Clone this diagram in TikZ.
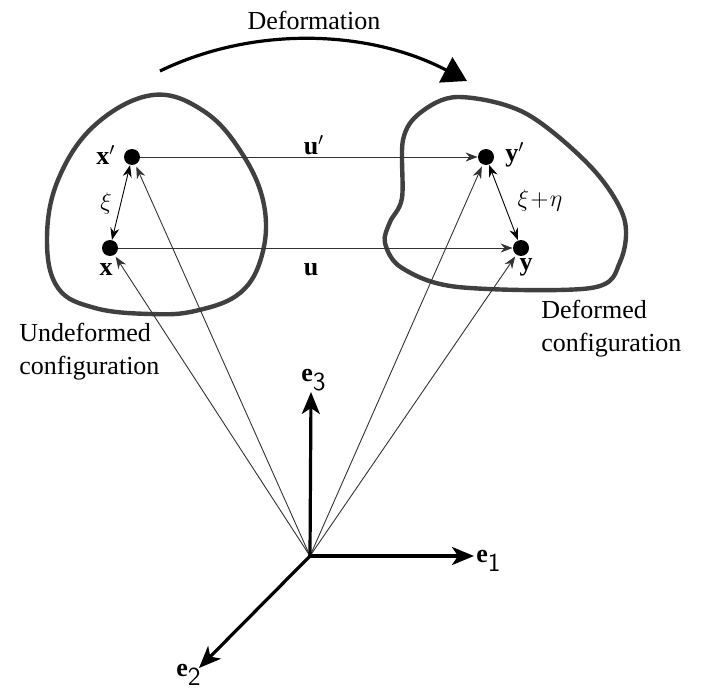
\documentclass[tikz,border=0pt]{standalone}
\usepackage{fontspec}
\setmainfont{Liberation Serif}
\usetikzlibrary{arrows.meta}
\tikzset{
  blob/.style={line width=2.2pt, draw=black!75, line join=round},
  dot/.style={circle, fill=black, inner sep=0pt, minimum size=8pt},
  thinarr/.style={line width=0.45pt, draw=black!80, -{Stealth[length=6pt,width=4.5pt]}},
  dblarr/.style={line width=0.45pt, {Stealth[length=6pt,width=4.5pt]}-{Stealth[length=6pt,width=4.5pt]}},
  axis/.style={line width=1.6pt, -{Stealth[length=11pt,width=9pt,inset=3pt]}},
  lbl/.style={font=\rmfamily\fontsize{13}{15}\selectfont, inner sep=1pt},
  txt/.style={font=\rmfamily\fontsize{13}{16.5}\selectfont, align=left, inner sep=0pt}
}
\begin{document}
\begin{tikzpicture}[x=0.5pt,y=-0.5pt]
\useasboundingbox (0,0) rectangle (718,690);
% blobs
\draw[blob] plot[smooth cycle, tension=0.65] coordinates {(153,95) (205,112) (243,155) (264,205) (262,255) (240,293) (195,311) (150,314) (95,308) (58,288) (47,240) (58,180) (95,125)};
\draw[blob] plot[smooth cycle, tension=0.55] coordinates {(458,97) (525,113) (591,167) (624,218) (620,262) (591,288) (458,287) (402,268) (385,243) (390,222) (402,198) (403,140) (420,113)};
% deformation arrow
\coordinate (d1) at (160,71);
\coordinate (d2) at (467,81);
\draw[line width=1.6pt, -{Triangle[length=12pt,width=14pt]}] (d1) .. controls (255,25) and (370,30) .. (d2);
\node[txt] (deflbl) at (314,20) {Deformation};
% points
\node[dot] (xp) at (132,157) {};
\node[dot] (x) at (110,248) {};
\node[dot] (yp) at (486,157) {};
\node[dot] (y) at (521,248) {};
\coordinate (O) at (310,556);
% point labels
\node[lbl] (lxp) at (106,155) {\textbf{x}$'$};
\node[lbl] (lx) at (106,270) {\textbf{x}};
\node[lbl] (lxi) at (106,203) {$\xi$};
\node[lbl] (lup) at (314,145) {\textbf{u}$'$};
\node[lbl] (lu) at (311,270) {\textbf{u}};
\node[lbl] (lyp) at (515,155) {\textbf{y}$'$};
\node[lbl] (ly) at (526,267) {\textbf{y}};
\node[lbl] (lxe) at (540,200) {$\xi\!+\!\eta$};
% connectors
\draw[thinarr] (xp) -- (yp);
\draw[thinarr] (x) -- (y);
\draw[dblarr] (xp) -- (x);
\draw[dblarr] (yp) -- (y);
\draw[thinarr, shorten >=1pt] (O) -- (x);
\draw[thinarr, shorten >=1pt] (O) -- (xp);
\draw[thinarr, shorten >=1pt] (O) -- (yp);
\draw[thinarr, shorten >=1pt] (O) -- (y);
% axes
\coordinate (e1) at (474,556);
\coordinate (e3) at (311,392);
\coordinate (e2) at (199,668);
\draw[axis] (O) -- (e1);
\draw[axis] (O) -- (e3);
\draw[axis] (O) -- (e2);
\node[lbl] (le1) at (489,561) {\textbf{e}$_{\textsf{1}}$};
\node[lbl] (le3) at (314,380) {\textbf{e}$_{\textsf{3}}$};
\node[lbl] (le2) at (189,675) {\textbf{e}$_{\textsf{2}}$};
% captions
\node[txt, anchor=west] (undef) at (19,352) {Undeformed\\configuration};
\node[txt, anchor=west] (def) at (541,329) {Deformed\\configuration};
\end{tikzpicture}
\end{document}
